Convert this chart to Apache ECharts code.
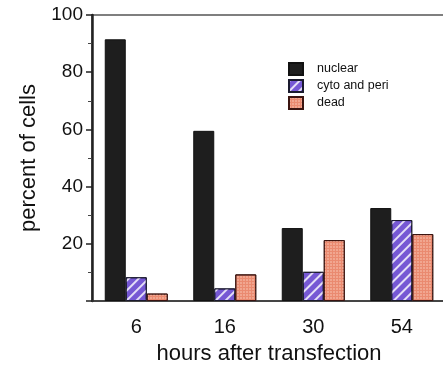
<!DOCTYPE html>
<html>
<head>
<meta charset="utf-8">
<script src="https://cdn.jsdelivr.net/npm/echarts@6/dist/echarts.min.js"></script>
<style>
  html, body { margin: 0; padding: 0; background: #fff; }
  #chart { width: 443px; height: 366px; }
</style>
</head>
<body>
<div id="chart"></div>
<script>
const hours = ["6", "16", "30", "54"];
const nuclear = [91.5, 59.5, 25.5, 32.5];
const cytoPeri = [8.3, 4.4, 10.2, 28.3];
const dead = [2.6, 9.3, 21.3, 23.4];

const font = "Liberation Sans, Arial, sans-serif";

const chart = echarts.init(document.getElementById("chart"));

chart.setOption({
  backgroundColor: "#fff",
  animation: false,
  textStyle: { fontFamily: font },
  grid: {
    left: 92, right: -3, top: 15, bottom: 65,
    outerBoundsMode: "none",
    containLabel: false,
    show: true, borderColor: "#555", borderWidth: 1.5
  },
  legend: {
    orient: "vertical",
    left: 283, top: 57,
    itemWidth: 14, itemHeight: 12, itemGap: 3,
    icon: "rect",
    textStyle: { fontSize: 12.5, color: "#111", fontFamily: font, padding: [0, 0, 0, 9] },
    data: ["nuclear", "cyto and peri", "dead"]
  },
  xAxis: {
    type: "category",
    data: hours,
    name: "hours after transfection",
    nameLocation: "middle",
    nameGap: 42,
    nameTextStyle: { fontSize: 22, color: "#111" },
    axisLine: { lineStyle: { color: "#333", width: 1.5 } },
    axisTick: { show: false },
    axisLabel: { fontSize: 20, color: "#111", margin: 16 }
  },
  yAxis: {
    type: "value",
    min: 0, max: 100, interval: 20,
    name: "percent of cells",
    nameLocation: "middle",
    nameGap: 52,
    nameTextStyle: { fontSize: 22, color: "#111" },
    axisLine: { show: true, lineStyle: { color: "#222", width: 2.5 } },
    axisTick: { show: true, inside: false, length: 6, lineStyle: { color: "#222", width: 1.5 } },
    minorTick: { show: true, splitNumber: 2, length: 4, lineStyle: { color: "#444" } },
    axisLabel: {
      fontSize: 19, color: "#111", margin: 9,
      formatter: v => (v === 0 ? "" : v)
    },
    splitLine: { show: false }
  },
  series: [
    {
      name: "nuclear",
      type: "bar",
      data: nuclear,
      barWidth: 21,
      barGap: "0%",
      itemStyle: { color: "#1e1e1e", borderColor: "#111", borderWidth: 1 }
    },
    {
      name: "cyto and peri",
      type: "bar",
      data: cytoPeri,
      barWidth: 21,
      itemStyle: {
        color: "#7658d4",
        borderColor: "#1a1a2e",
        borderWidth: 1,
        decal: {
          symbol: "rect",
          color: "rgba(255,255,255,0.8)",
          dashArrayX: [1, 0],
          dashArrayY: [1.5, 4.5],
          rotation: -Math.PI / 4
        }
      }
    },
    {
      name: "dead",
      type: "bar",
      data: dead,
      barWidth: 21,
      itemStyle: {
        color: "#ea8a70",
        borderColor: "#3a1410",
        borderWidth: 1,
        decal: {
          symbol: "circle",
          symbolSize: 0.8,
          color: "rgba(255,220,205,0.8)",
          dashArrayX: [2, 1],
          dashArrayY: [2, 1]
        }
      }
    }
  ]
});
</script>
</body>
</html>
